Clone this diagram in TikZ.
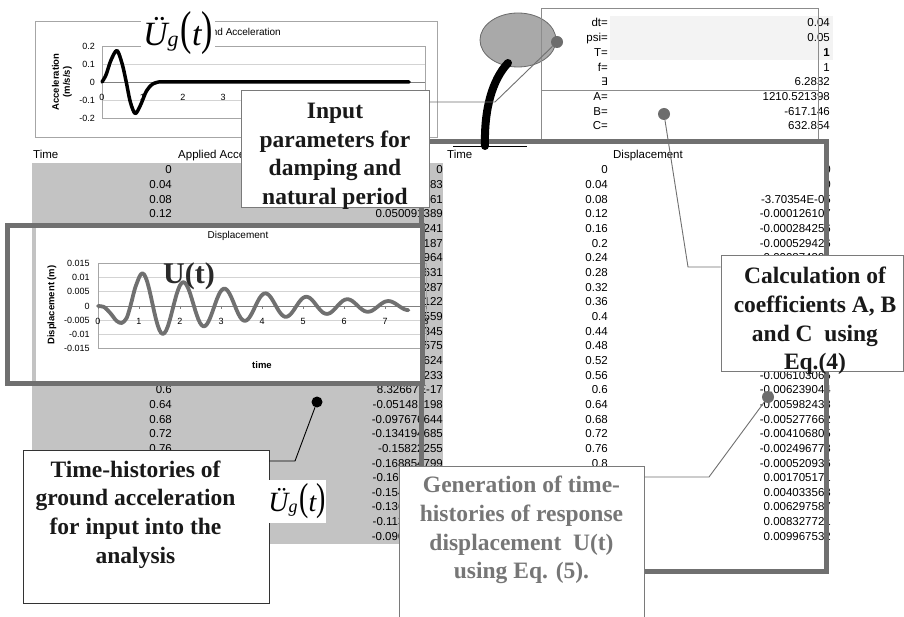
\documentclass[tikz,border=0pt]{standalone}
\usepackage{fontspec}
\setmainfont{Liberation Serif}
\setsansfont{Liberation Sans}
\newfontfamily\dvfont{DejaVu Sans}
\usepackage{graphicx}
\usetikzlibrary{calc}

\definecolor{framegray}{HTML}{707070}
\definecolor{tablegray}{HTML}{C3C3C3}
\definecolor{boxgray}{HTML}{7A7A7A}
\definecolor{leadgray}{HTML}{707070}
\definecolor{dotgray}{HTML}{6D6D6D}
\definecolor{gentext}{HTML}{767676}
\definecolor{darktext}{HTML}{2A2A2A}
\definecolor{chartgray}{HTML}{A6A6A6}
\definecolor{gridgray}{HTML}{D3D3D3}
\definecolor{axisgray}{HTML}{808080}
\definecolor{inputshade}{HTML}{F3F3F3}
\definecolor{paramgray}{HTML}{8C8C8C}
\definecolor{ellipsefill}{HTML}{A9A9A9}
\definecolor{ellipsedraw}{HTML}{6A6A6A}

% U double dot g (t)
\newcommand{\ugt}[1]{\scalebox{#1}{\fontsize{34}{34}\selectfont\itshape Ü\raisebox{-1pt}{\fontsize{22}{22}\selectfont g}\kern2pt\upshape\raisebox{1pt}{\scalebox{1}[1.4]{(}}\itshape t\upshape\raisebox{1pt}{\scalebox{1}[1.4]{)}}}}

\def\timelist{0,0.04,0.08,0.12,0.16,0.2,0.24,0.28,0.32,0.36,0.4,0.44,0.48,0.52,0.56,0.6,0.64,0.68,0.72,0.76,0.8,0.84,0.88,0.92,0.96,1}
\def\acclist{0,0.013762483,0.029558361,0.050091389,0.074583241,0.100452187,0.124318964,0.143927631,0.157240287,0.162537122,0.157613559,0.140521345,0.110384575,0.068417624,0.017892233,8.32667E-17,-0.051481198,-0.097676644,-0.134194685,-0.15822255,-0.168854799,-0.167304112,-0.154683475,-0.136412237,-0.113845012,-0.090126539}
\def\displist{0,0,-3.70354E-05,-0.000126107,-0.000284256,-0.000529426,-0.000874391,-0.001326884,-0.001876342,-0.002509213,-0.003204867,-0.003936513,-0.004671392,-0.005371584,-0.006103065,-0.006239044,-0.005982438,-0.005277662,-0.004106805,-0.002496773,-0.000520936,0.001705171,0.004033563,0.006297587,0.008327721,0.009967532}

\begin{document}
\begin{tikzpicture}[x=1pt,y=-1pt,
    cell/.style={font=\sffamily\fontsize{11.5}{12}\selectfont, inner sep=0pt, anchor=base east},
    headcell/.style={font=\sffamily\fontsize{11.5}{12}\selectfont, inner sep=0pt, anchor=base west},
    ticklab/.style={font=\sffamily\fontsize{9}{9}\selectfont, inner sep=0pt},
    axlab/.style={font=\sffamily\bfseries\fontsize{9.5}{11}\selectfont, inner sep=0pt, align=center},
    charttitle/.style={font=\sffamily\fontsize{10}{10}\selectfont, inner sep=0pt},
    callbox/.style={draw=boxgray, fill=white, line width=0.9pt, inner sep=0pt},
    calltext/.style={font=\bfseries\fontsize{23.5}{28.7}\selectfont, align=center, inner sep=0pt, text=black!90},
    lead/.style={draw=leadgray, line width=0.9pt},
    pindot/.style={circle, fill=dotgray, inner sep=0pt, minimum size=12pt},
    gridline/.style={draw=gridgray, line width=0.6pt},
    thickframe/.style={draw=framegray, line width=5pt},
  ]
  \fill[white] (0,0) rectangle (904,617);
  \useasboundingbox (0,0) rectangle (904,617);

  % ground acceleration chart
  \draw[chartgray, line width=0.8pt] (35,21) rectangle (437,137);
  \node[axlab, rotate=90] (acclab) at (62,82) {Acceleration\\(m/s/s)};
  \node[charttitle, anchor=base east] (acctitle) at (281,36) {Ground Acceleration};
  \begin{scope}[shift={(102,82)}, x=40.4pt, y=180pt]
    \foreach \yv in {-0.2,-0.1,0.1,0.2} \draw[gridline] (0,\yv) -- (8,\yv);
    \draw[chartgray, line width=0.8pt] (0,-0.2) rectangle (8,0.2);
    \draw[axisgray, line width=0.8pt] (0,0) -- (8,0);
    \foreach \yv [count=\k] in {0.2,0.1,0,-0.1,-0.2} \node[ticklab, anchor=east] (ay\k) at (-0.17,\yv) {\yv};
    \foreach \tv in {0,...,8} \node[ticklab] (ax\tv) at (\tv,-0.083) {\tv};
    \draw[black, line width=3.5pt, line cap=round, line join=round] plot[smooth] coordinates {(0,0) (0.1,0.04) (0.22,0.12) (0.37,0.175) (0.5,0.1) (0.6,0) (0.7,-0.11) (0.82,-0.175) (0.95,-0.13) (1.1,-0.05) (1.25,-0.012) (1.4,0)} -- (7.6,0);
  \end{scope}

  % acceleration table
  \fill[tablegray] (32,163) rectangle (443,544);
  \node[headcell] (acctime) at (33,159) {Time};
  \node[headcell] (acchead) at (178,159) {Applied Acceleration};
  \foreach \tv [count=\row from 0] in \timelist \node[cell] (at\row) at (172,{174+14.65*\row}) {\tv};
  \foreach \av [count=\row from 0] in \acclist \node[cell] (av\row) at (443,{174+14.65*\row}) {\av};

  % displacement table
  \node[headcell] (disptime) at (447,159) {Time};
  \node[headcell, anchor=base] (disphead) at (648,159) {Displacement};
  \foreach \tv [count=\row from 0] in \timelist \node[cell] (dt\row) at (608,{174+14.65*\row}) {\tv};
  \foreach \dv [count=\row from 0] in \displist \node[cell] (dv\row) at (831,{174+14.65*\row}) {\dv};

  % parameters
  \filldraw[fill=ellipsefill, draw=ellipsedraw, line width=0.8pt] (518,40) ellipse [x radius=38pt, y radius=27pt];
  \fill[inputshade] (610,16) rectangle (833,60);
  \foreach \lab [count=\row from 0] in {dt=,psi=,T=,f=,{\dvfont\fontsize{10.5}{11}\selectfont ∃},A=,B=,C=}
    \node[cell] (pl\row) at (608,{27+14.7*\row}) {\lab};
  \foreach \pv [count=\row from 0] in {0.04,0.05,\textbf{1},1,6.2832,1210.521398,-617.146,632.854}
    \node[cell] (pv\row) at (830,{27+14.7*\row}) {\pv};
  \draw[paramgray, line width=0.8pt] (541,142) |- (818,8) -- (818,142);
  \draw[paramgray, line width=0.8pt] (541,90) -- (818,90);

  \draw[thickframe] (421,142) rectangle (826,571);

  % displacement chart
  \fill[white] (36,226) rectangle (422,383);
  \node[charttitle] (disptitle) at (238,236) {Displacement};
  \node[axlab, rotate=90] (displab) at (52,305) {Displacement (m)};
  \node[axlab] (timelab) at (262,365) {time};
  \begin{scope}[shift={(98,306)}, x=41pt, y=2840pt]
    \foreach \yv in {-0.015,-0.01,-0.005,0.005,0.01,0.015} \draw[gridline] (0,\yv) -- (8,\yv);
    \draw[chartgray, line width=0.8pt] (0,-0.015) rectangle (8,0.015);
    \draw[axisgray, line width=0.8pt] (0,0) -- (8,0);
    \foreach \tv in {0,...,8} {
      \draw[axisgray, line width=0.6pt] (\tv,0) -- (\tv,-0.0012);
      \node[ticklab] (ux\tv) at (\tv,-0.0053) {\tv};
    }
    \foreach \yv [count=\k] in {0.015,0.01,0.005,0,-0.005,-0.01,-0.015} \node[ticklab, anchor=east] (uy\k) at (-0.2,\yv) {\yv};
    \draw[framegray, line width=3.8pt, line cap=round, line join=round] plot[smooth] coordinates {(0,0) (0.15,-0.0004) (0.3,-0.0025) (0.45,-0.0052) (0.58,-0.006) (0.7,-0.0042) (0.8,0.0005) (0.9,0.0061) (1.0,0.00999)} -- plot[domain=1:7.57, samples=160] (\x,{0.0115*exp(-0.314*(\x-1.09))*cos(360*(\x-1.09))});
  \end{scope}
  \draw[thickframe] (7,226) rectangle (422,383);
  \node[font=\bfseries\fontsize{30}{30}\selectfont, text=darktext, inner sep=0pt] (ulab) at (189,276) {U(t)};

  % hand stroke
  \draw[black, line width=8pt, line cap=round] (508,63) .. controls (492,80) and (484,110) .. (485,146);
  \draw[black, line width=0.8pt] (453,146) -- (527,146);

  % input parameters callout
  \node[callbox, minimum width=188pt, minimum height=117pt] (inputbox) at (335,148.5) {};
  \node[calltext] (inputtext) at (335,156.3) {Input\\parameters for\\damping and\\natural period};
  \node[pindot] (inputdot) at (557,42) {};
  \coordinate (inputbend) at (495,102);
  \draw[lead] (inputbox.east |- inputbend) -- (inputbend) -- (inputdot);

  % coefficients callout
  \node[callbox, minimum width=182pt, minimum height=116pt] (calcbox) at (812,313) {};
  \node[calltext] (calctext) at (815,321) {Calculation of\\coefficients A, B\\and C\ \ using\\Eq.(4)};
  \node[pindot] (calcdot) at (664,114) {};
  \coordinate (calcbend) at (688,267);
  \draw[lead] (calcbox.west |- calcbend) -- (calcbend) -- (calcdot);

  % ground acceleration callout
  \node[callbox, draw=black!80, minimum width=246pt, minimum height=153pt] (accbox) at (146,526.5) {};
  \node[calltext] (acctext) at (135.5,514.5) {Time-histories of\\ground acceleration\\for input into the\\analysis};
  \node[circle, fill=black, inner sep=0pt, minimum size=11pt] (accdot) at (317,402) {};
  \coordinate (accbend) at (295,461);
  \draw[black, line width=0.9pt] (accbox.east |- accbend) -- (accbend) -- (accdot);
  \node[fill=white, inner sep=0pt, minimum width=56pt, minimum height=43pt] (ugbot) at (297,501.5) {\ugt{0.82}};

  % response callout
  \node[callbox, minimum width=245pt, minimum height=170pt] (genbox) at (521.5,551) {};
  \node[calltext, text=gentext] (gentext) at (521.5,530) {Generation of time-\\histories of response\\displacement\ \ U(t)\\using Eq. (5).};
  \node[pindot] (gendot) at (768,397) {};
  \coordinate (genbend) at (709,477);
  \draw[lead] (genbox.east |- genbend) -- (genbend) -- (gendot);

  % label on acceleration chart
  \node[fill=white, inner sep=2pt] (ugtop) at (178,33) {\ugt{1}};
\end{tikzpicture}
\end{document}
